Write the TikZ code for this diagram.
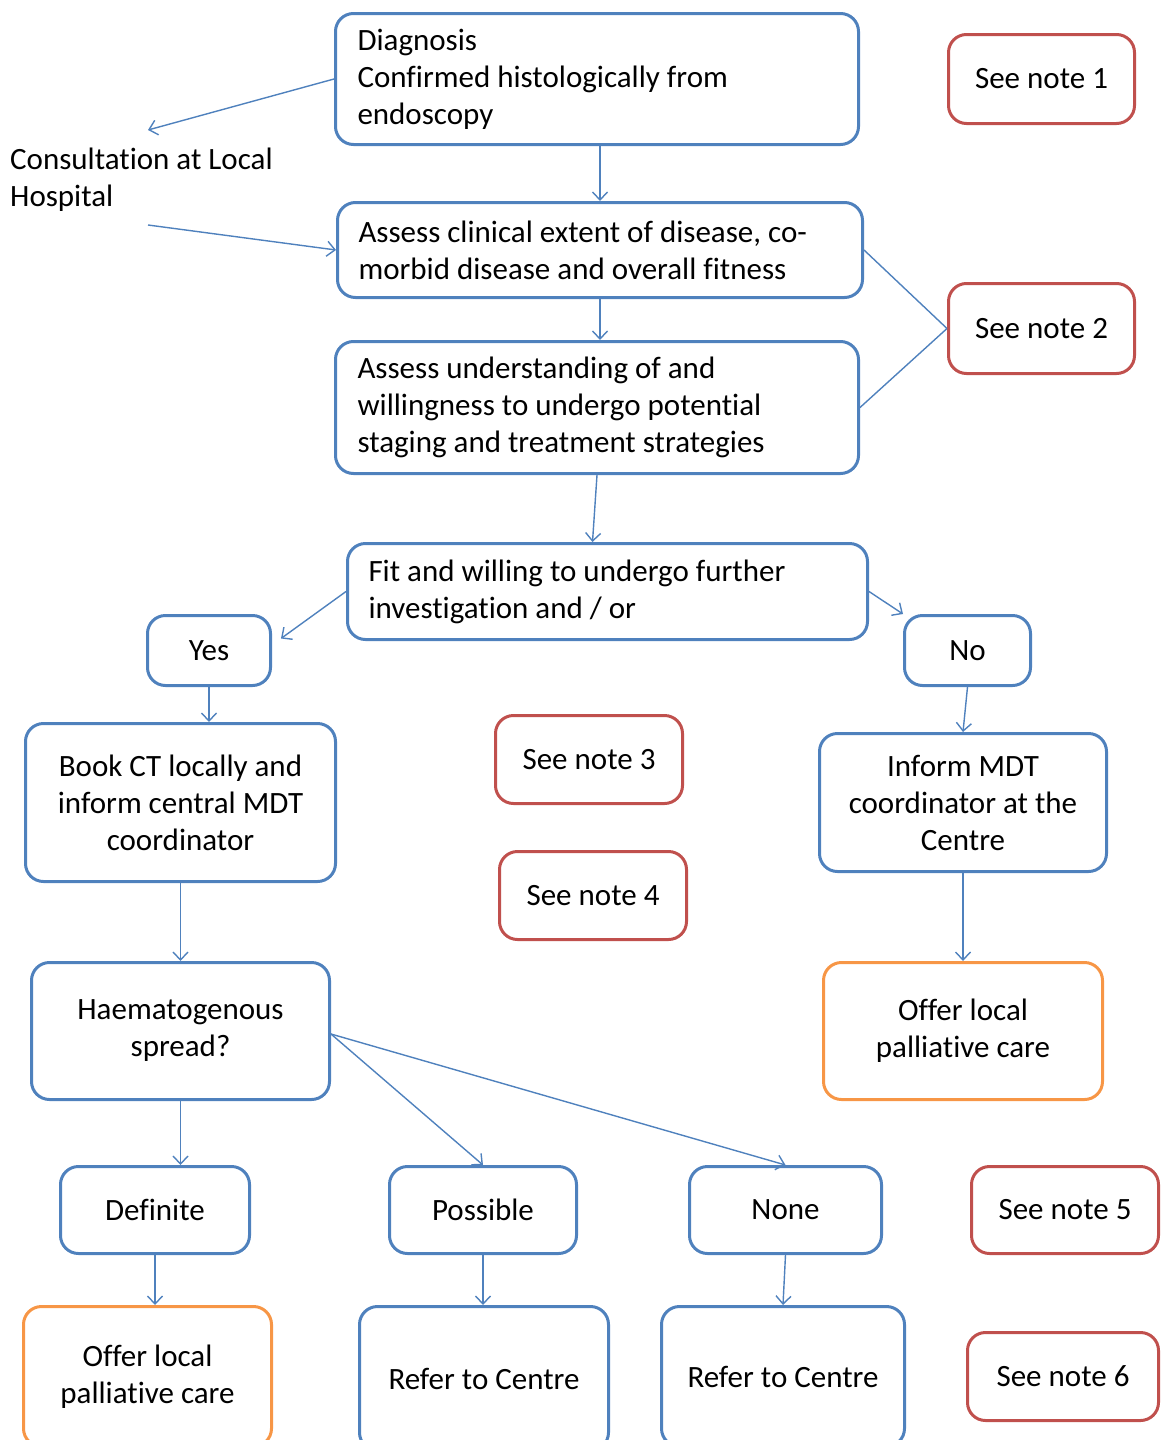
\documentclass[tikz,border=0pt]{standalone}
\usepackage{fontspec}
\setmainfont{Carlito}[Ligatures=NoCommon]
\usetikzlibrary{arrows.meta,calc}
\definecolor{flowblue}{HTML}{4F81BD}
\definecolor{notered}{HTML}{C0504D}
\definecolor{careorange}{HTML}{F79646}
\begin{document}
\begin{tikzpicture}[x=1pt,y=-1pt,
  base/.style={rounded corners=18pt, line width=3pt, inner sep=0pt, anchor=north west,
    font=\fontsize{31}{37}\selectfont, text=black},
  stepbox/.style={base, draw=flowblue, align=center},
  leftbox/.style={base, draw=flowblue, align=flush left, inner xsep=22pt},
  notebox/.style={base, draw=notered, align=center},
  carebox/.style={base, draw=careorange, align=center},
  size/.style 2 args={minimum width=#1pt, minimum height=#2pt},
  link/.style={draw=flowblue, line width=1.4pt,
    -{Straight Barb[length=8pt,width=15pt,line width=1.4pt]}},
  plain/.style={draw=flowblue, line width=1.4pt}]
\useasboundingbox (0,0) rectangle (1160,1440);
\clip (0,0) rectangle (1160,1440);

% top column
\node[leftbox, size={523}{131}, text width=479pt] (diag) at (334,12)
  {Diagnosis\\Confirmed histologically from\\endoscopy};
\node[leftbox, size={525}{95}, inner xsep=21pt, text width=483pt] (clin) at (336,201)
  {Assess clinical extent of disease, co-\\morbid disease and overall fitness};
\node[leftbox, size={523}{132}, text width=479pt] (und) at (334,340)
  {Assess understanding of and\\willingness to undergo potential\\staging and treatment strategies};
\node[leftbox, size={520}{96}, inner xsep=21pt, text width=478pt] (fit) at (346,542)
  {Fit and willing to undergo further\\investigation and / or};

\node[anchor=west, align=flush left, inner sep=0pt, font=\fontsize{31}{37}\selectfont] (cons) at (10,180)
  {Consultation at Local\\Hospital};
\coordinate (c1) at (148,130);
\coordinate (c2) at (148,225);

% notes
\node[notebox, size={186}{89}] (n1) at (947,33) {See note 1};
\node[notebox, size={186}{90}] (n2) at (947,282) {See note 2};
\node[notebox, size={187}{88}] (n3) at (494,714) {See note 3};
\node[notebox, size={187}{88}] (n4) at (498,850) {See note 4};
\node[notebox, size={187}{87}] (n5) at (970,1165) {See note 5};
\node[notebox, size={191}{88}] (n6) at (966,1331) {See note 6};

% branches
\node[stepbox, size={123}{70}] (yes) at (146,614) {Yes};
\node[stepbox, size={126}{70}] (no) at (903,614) {No};
\node[stepbox, size={310}{158}] (book) at (24,722) {Book CT locally and\\inform central MDT\\coordinator};
\node[stepbox, size={287}{138}] (inform) at (818,732) {Inform MDT\\coordinator at the\\Centre};
\node[stepbox, size={298}{137}] (haem) at (30,961) {Haematogenous\\spread?};
\node[carebox, size={279}{137}] (care1) at (822,961) {Offer local\\palliative care};
\node[stepbox, size={189}{87}] (def) at (59,1165) {Definite};
\node[stepbox, size={187}{87}] (poss) at (388,1165) {Possible};
\node[stepbox, size={192}{87}] (none) at (688,1165) {None};
\node[carebox, size={248}{140}] (care2) at (22,1305) {Offer local\\palliative care};
\node[stepbox, size={249}{144}] (ref1) at (358,1305) {Refer to Centre};
\node[stepbox, size={243}{140}] (ref2) at (660,1305) {Refer to Centre};

% connectors
\draw[link] (diag.west) -- (c1);
\draw[link] (c2) -- (clin.west);
\draw[link] (clin.north |- diag.south) -- (clin.north);
\draw[link] (clin.south) -- (clin.south |- und.north);
\draw[plain] (clin.east) -- (n2.west);
\draw[plain] (und.east) -- (n2.west);
\draw[link] (und.south) -- ($(fit.north)+(-15,0)$);
\draw[link] (fit.west) -- ($(yes.east)+(9,-12)$);
\draw[link] (fit.east) -- (no.north west);
\draw[link] (yes.south) -- (yes.south |- book.north);
\draw[link] (no.south) -- (inform.north);
\draw[link] (book.south) -- (book.south |- haem.north);
\draw[link] (inform.south) -- (inform.south |- care1.north);
\draw[link] (haem.south) -- (haem.south |- def.north);
\draw[link] ($(haem.east)+(0,3)$) -- (poss.north);
\draw[link] ($(haem.east)+(0,3)$) -- (none.north);
\draw[link] (def.south) -- (def.south |- care2.north);
\draw[link] (poss.south) -- (poss.south |- ref1.north);
\draw[link] (none.south) -- (ref2.north);
\end{tikzpicture}
\end{document}
